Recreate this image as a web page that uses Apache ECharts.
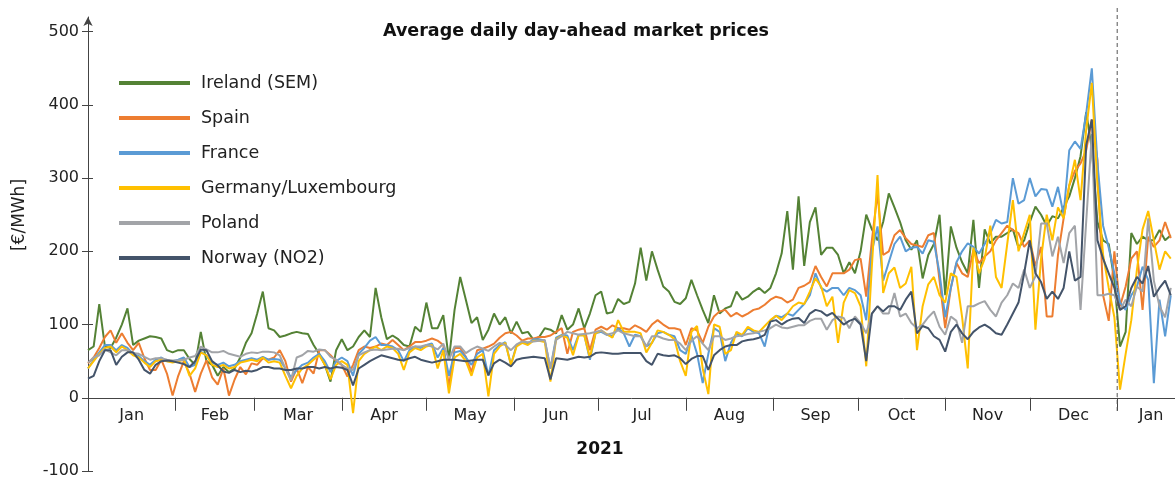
<!DOCTYPE html>
<html>
<head>
<meta charset="utf-8">
<script src="https://cdn.jsdelivr.net/npm/echarts@6/dist/echarts.min.js"></script>
<style>
  html, body { margin: 0; padding: 0; background: #fff; }
  #chart { width: 1175px; height: 480px; }
</style>
</head>
<body>
<div id="chart"></div>
<script>
// day offsets from 1 Jan 2021, one reading every second day (0 .. 384)
const days = Array.from({ length: 193 }, (_, i) => i * 2);

const seriesNames = ['Ireland (SEM)', 'Spain', 'France', 'Germany/Luxembourg', 'Poland', 'Norway (NO2)'];
const seriesColors = ['#548235', '#ED7D31', '#5B9BD5', '#FFC000', '#A2A4A8', '#44546A'];

const ireland = [
  65, 70, 128, 70, 68, 82, 100, 122, 72, 78,
  81, 84, 83, 81, 65, 62, 65, 65, 53, 45,
  90, 50, 45, 30, 42, 35, 40, 55, 75, 88,
  115, 145, 95, 92, 83, 85, 88, 90, 88, 87,
  72, 60, 45, 22, 65, 80, 65, 70, 83, 92,
  83, 150, 110, 80, 85, 80, 72, 70, 97, 90,
  130, 95, 95, 113, 52, 120, 165, 134, 102, 110,
  79, 93, 115, 100, 110, 88, 104, 88, 90, 79,
  83, 95, 93, 88, 113, 93, 100, 122, 95, 115,
  140, 145, 115, 117, 135, 128, 131, 156, 205, 160,
  200, 175, 152, 145, 131, 128, 136, 161, 140, 120,
  102, 140, 115, 122, 125, 145, 134, 138, 145, 150,
  143, 150, 170, 197, 255, 175, 275, 180, 240, 260,
  195, 205, 205, 195, 170, 185, 170, 200, 250, 230,
  215, 240, 279, 260, 240, 215, 202, 215, 163, 195,
  210, 250, 140, 234, 205, 185, 170, 243, 150, 230,
  211, 220, 220, 225, 230, 205, 215, 240, 261, 250,
  235, 248, 245, 260, 275, 300, 330, 390, 340, 240,
  215, 210, 160, 70, 90, 225, 210, 220, 215, 215,
  229, 215, 222
];
const spain = [
  47, 55, 68, 83, 92, 75, 88, 75, 65, 75,
  54, 38, 38, 52, 33, 3, 30, 50, 33, 8,
  33, 51, 28, 18, 40, 3, 25, 42, 32, 47,
  45, 54, 52, 55, 65, 50, 22, 40, 20, 42,
  33, 65, 65, 58, 50, 45, 29, 45, 65, 70,
  68, 70, 74, 72, 79, 72, 65, 70, 76, 76,
  78, 81, 78, 72, 15, 68, 68, 56, 35, 65,
  67, 70, 74, 82, 88, 90, 85, 78, 81, 81,
  83, 83, 85, 90, 95, 60, 90, 93, 95, 65,
  93, 97, 93, 99, 95, 95, 93, 99, 95, 90,
  100, 106, 100, 95, 95, 93, 72, 95, 92, 75,
  97, 111, 118, 120, 111, 116, 111, 115, 120, 122,
  127, 134, 138, 136, 130, 134, 150, 153, 158, 180,
  165, 152, 170, 170, 170, 175, 188, 190, 138, 215,
  279, 195, 200, 222, 229, 218, 210, 208, 206, 222,
  225, 160, 95, 150, 184, 170, 165, 202, 184, 193,
  200, 215, 225, 235, 229, 225, 206, 215, 180, 206,
  111, 111, 195, 245, 290, 310, 320, 338, 380, 325,
  140, 105, 200, 125, 152, 190, 200, 120, 220, 206,
  215, 240, 218
];
const france = [
  40, 52, 62, 72, 72, 65, 72, 68, 60, 57,
  50, 45, 52, 55, 50, 50, 52, 55, 42, 45,
  63, 58, 48, 45, 48, 43, 45, 50, 52, 54,
  52, 56, 52, 53, 52, 40, 28, 38, 45, 48,
  55, 60, 50, 35, 50, 55, 50, 30, 60, 68,
  78, 83, 72, 72, 70, 65, 50, 65, 70, 68,
  72, 74, 55, 68, 30, 62, 64, 55, 45, 60,
  65, 30, 65, 72, 76, 45, 72, 76, 74, 80,
  80, 78, 40, 82, 86, 85, 65, 86, 86, 52,
  88, 90, 86, 84, 95, 88, 70, 86, 84, 70,
  75, 88, 90, 86, 84, 65, 60, 85, 60, 20,
  60, 95, 90, 50, 75, 88, 84, 95, 90, 88,
  70, 105, 112, 110, 115, 112, 120, 128, 140, 170,
  150, 145, 150, 150, 140, 150, 147, 140, 106, 200,
  234, 160, 185, 210, 220, 200, 205, 206, 197, 215,
  213, 170, 110, 150, 185, 200, 211, 206, 197, 210,
  224, 243, 238, 240, 300, 265, 270, 300, 275, 285,
  284, 261, 288, 250, 338, 350, 340, 388, 450, 320,
  235, 205, 170, 130, 120, 140, 152, 179, 161, 20,
  134, 84, 140
];
const germany = [
  40, 50, 60, 68, 70, 62, 70, 65, 58, 55,
  48, 42, 50, 52, 50, 48, 50, 52, 30, 40,
  62, 58, 45, 42, 45, 40, 42, 48, 50, 52,
  50, 55, 48, 50, 48, 30, 13, 30, 40, 45,
  52, 58, 45, 25, 45, 50, 45, -21, 50, 60,
  65, 70, 65, 70, 68, 60, 38, 62, 68, 65,
  70, 72, 40, 65, 6, 55, 60, 50, 30, 55,
  60, 2, 60, 70, 75, 45, 70, 75, 72, 78,
  78, 76, 22, 80, 85, 82, 58, 85, 85, 55,
  88, 92, 87, 82, 106, 90, 90, 90, 88, 62,
  75, 92, 90, 86, 80, 50, 30, 90, 98, 40,
  5, 100, 97, 60, 65, 90, 86, 97, 92, 90,
  98, 106, 112, 106, 115, 125, 130, 128, 145, 163,
  152, 125, 138, 75, 130, 147, 143, 125, 43, 180,
  304, 143, 170, 178, 150, 156, 179, 65, 125, 155,
  165, 140, 130, 170, 165, 110, 40, 205, 170, 190,
  235, 165, 150, 210, 270, 200, 225, 250, 93, 190,
  250, 215, 260, 245, 290, 325, 270, 366, 430, 290,
  195, 150, 110, 11, 60, 106, 175, 230, 255, 215,
  175, 200, 190
];
const poland = [
  48, 55, 58, 66, 62, 58, 65, 65, 61, 60,
  56, 52, 54, 54, 52, 51, 51, 52, 55, 57,
  70, 66, 62, 62, 64, 60, 58, 56, 60, 62,
  61, 63, 63, 62, 58, 40, 24, 55, 58, 64,
  63, 66, 65, 56, 52, 45, 40, 38, 58, 62,
  65, 66, 65, 66, 67, 67, 65, 68, 70, 70,
  72, 70, 66, 74, 52, 70, 70, 61, 66, 70,
  67, 64, 70, 75, 72, 65, 73, 77, 76, 77,
  78, 79, 40, 79, 84, 90, 88, 86, 87, 88,
  90, 92, 86, 88, 92, 88, 86, 84, 84, 70,
  84, 84, 81, 79, 79, 74, 65, 78, 84, 74,
  65, 84, 84, 79, 81, 84, 85, 87, 88, 90,
  92, 95, 100, 96, 95, 97, 99, 99, 105, 108,
  108, 93, 106, 111, 109, 95, 111, 102, 88, 115,
  125, 115, 115, 143, 111, 115, 102, 95, 100, 110,
  118, 97, 86, 111, 105, 75, 125, 125, 129, 132,
  120, 111, 130, 140, 156, 150, 175, 150, 166, 238,
  238, 193, 220, 184, 225, 235, 120, 240, 360, 140,
  140, 142, 140, 120, 134, 125, 152, 145, 245, 160,
  125, 110, 150
];
const norway = [
  26, 30, 50, 65, 65, 45, 56, 62, 62, 52,
  38, 33, 45, 50, 51, 50, 48, 46, 42, 50,
  66, 65, 50, 44, 36, 34, 38, 35, 37, 36,
  38, 42, 42, 40, 40, 38, 38, 40, 40, 42,
  42, 40, 42, 40, 42, 41, 38, 17, 40, 45,
  50, 54, 58, 56, 54, 52, 51, 54, 56, 52,
  50, 48, 50, 52, 52, 52, 51, 50, 51, 52,
  52, 31, 47, 52, 48, 43, 52, 54, 55, 56,
  55, 54, 25, 54, 53, 52, 54, 56, 55, 56,
  61, 62, 61, 60, 60, 61, 61, 61, 61, 50,
  45, 60, 58, 57, 58, 54, 46, 53, 57, 57,
  38, 58, 65, 70, 72, 72, 77, 79, 80, 82,
  86, 104, 106, 100, 105, 108, 109, 102, 115, 120,
  118, 112, 116, 108, 100, 105, 108, 100, 50, 115,
  125, 118, 125, 125, 120, 134, 145, 88, 98, 95,
  84, 79, 63, 90, 100, 88, 80, 90, 96, 100,
  95, 88, 86, 100, 115, 130, 170, 215, 170, 158,
  135, 145, 135, 150, 200, 160, 165, 345, 380, 215,
  190, 170, 150, 120, 125, 150, 165, 156, 180, 138,
  150, 160, 140
];
const seriesValues = [ireland, spain, france, germany, poland, norway];

// axis ticks and labels
const yMin = -100;
const yMax = 520;
const yTicks = [-100, 0, 100, 200, 300, 400, 500];
const monthStarts = [0, 31, 59, 90, 120, 151, 181, 212, 243, 273, 304, 334, 365, 385.5];
const monthMids = [15.5, 45, 74.5, 105, 135.5, 166, 196.5, 227.5, 258, 288.5, 319, 349.5, 377];
const monthNames = ['Jan', 'Feb', 'Mar', 'Apr', 'May', 'Jun', 'Jul', 'Aug', 'Sep', 'Oct', 'Nov', 'Dec', 'Jan'];
const yearBreak = 365;

const font = 'DejaVu Sans';
const axisColor = '#444';
const textColor = '#222';

const gridTop = 17;
const gridBottom = 9;
const gridHeight = 480 - gridTop - gridBottom;
// lift the month axis from the grid bottom up to the zero line
const xAxisOffset = -gridHeight * (0 - yMin) / (yMax - yMin);

const chart = echarts.init(document.getElementById('chart'));

const series = seriesNames.map((name, k) => ({
    name: name,
    type: 'line',
    showSymbol: false,
    symbol: 'none',
    color: seriesColors[k],
    lineStyle: { width: 2, color: seriesColors[k] },
    data: days.map((d, i) => [d, seriesValues[k][i]])
}));

chart.setOption({
    animation: false,
    title: {
        text: 'Average daily day-ahead market prices',
        left: 378,
        top: 17,
        textStyle: { fontFamily: font, fontSize: 17.5, fontWeight: 'bold', color: '#111' }
    },
    legend: {
        orient: 'vertical',
        left: 114,
        top: 68,
        icon: 'rect',
        itemWidth: 71,
        itemHeight: 4,
        itemGap: 15,
        textStyle: { fontFamily: font, fontSize: 17.5, color: textColor, lineHeight: 20, padding: [0, 0, 0, 6] },
        data: seriesNames
    },
    grid: { left: 88, right: 0, top: gridTop, bottom: gridBottom, containLabel: false, outerBoundsMode: 'none' },
    xAxis: {
        type: 'value',
        min: 0,
        max: 385.5,
        position: 'bottom',
        offset: xAxisOffset,
        axisLine: { onZero: false, lineStyle: { color: axisColor, width: 1 } },
        axisTick: { show: true, customValues: monthStarts, length: 13, lineStyle: { color: axisColor } },
        axisLabel: {
            customValues: monthMids,
            formatter: v => monthNames[monthMids.indexOf(v)],
            margin: 10,
            fontFamily: font,
            fontSize: 16,
            color: textColor
        },
        splitLine: { show: false }
    },
    yAxis: [{
        type: 'value',
        min: yMin,
        max: yMax,
        axisLine: { show: true, onZero: false, symbol: ['none', 'arrow'], symbolSize: [7, 9], lineStyle: { color: axisColor } },
        axisTick: { show: true, customValues: yTicks, length: 6, lineStyle: { color: axisColor } },
        axisLabel: { customValues: yTicks, margin: 9, fontFamily: font, fontSize: 16, color: textColor },
        splitLine: { show: false }
    }, {
        type: 'value',
        position: 'left',
        min: yMin,
        max: yMax,
        axisLine: { show: false, onZero: false },
        axisTick: { show: true, inside: true, customValues: yTicks, length: 5, lineStyle: { color: axisColor } },
        axisLabel: { show: false },
        splitLine: { show: false }
    }],
    graphic: [{
        id: 'unitName',
        type: 'text',
        x: 20,
        y: 215,
        rotation: Math.PI / 2,
        style: { text: '[€/MWh]', font: '17px "DejaVu Sans"', fill: textColor, align: 'center', verticalAlign: 'middle' }
    }, {
        id: 'yearName',
        type: 'text',
        x: 600,
        y: 450,
        style: { text: '2021', font: 'bold 17px "DejaVu Sans"', fill: '#111', align: 'center', verticalAlign: 'middle' }
    }],
    series: series
});

// dashed marker at the turn of the year, placed through the chart's own scales
const breakTop = chart.convertToPixel({ gridIndex: 0 }, [yearBreak, yMax]);
const breakBottom = chart.convertToPixel({ gridIndex: 0 }, [yearBreak, -19]);
chart.setOption({
    graphic: [{
        id: 'yearBreak',
        type: 'line',
        silent: true,
        z: 10,
        shape: { x1: breakTop[0], y1: breakTop[1] - 9, x2: breakBottom[0], y2: breakBottom[1] },
        style: { stroke: '#555', lineWidth: 1, lineDash: [4, 3] }
    }]
});
</script>
</body>
</html>
